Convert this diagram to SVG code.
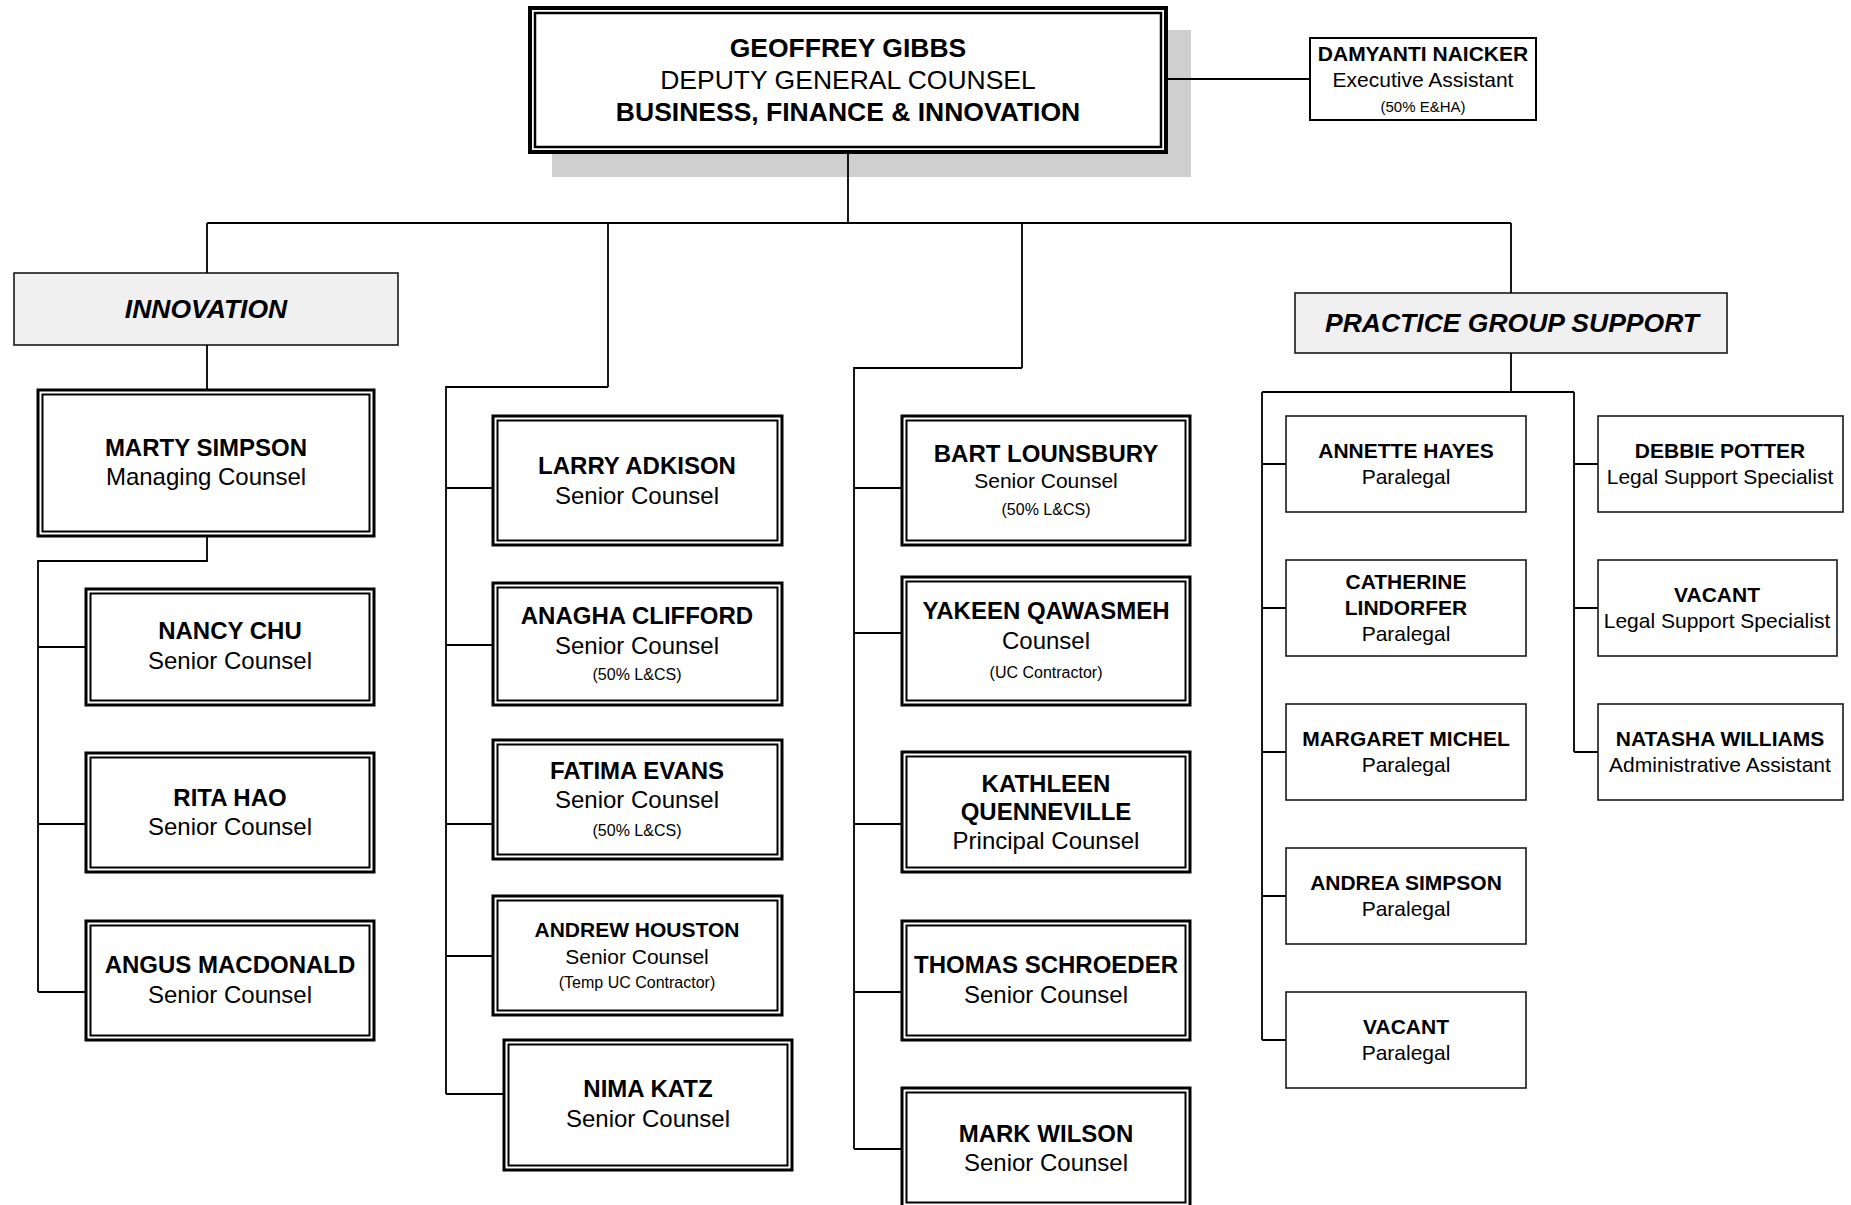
<svg xmlns="http://www.w3.org/2000/svg" width="1851" height="1205" viewBox="0 0 1851 1205">
<style>
text{font-family:"Liberation Sans",Arial,sans-serif;text-anchor:middle;fill:#000}
.n{font-weight:bold;font-size:24px}
.r{font-size:24px}
.n21{font-weight:bold;font-size:21px}
.r21{font-size:21px}
.sm{font-size:16px}
.hd{font-weight:bold;font-style:italic;font-size:26.5px}
.o{fill:#fff;stroke:#000;stroke-width:3}
.i{fill:none;stroke:#000;stroke-width:2}
.s{fill:#fff;stroke:#1a1a1a;stroke-width:1.6}
.h{fill:#f0f0f0;stroke:#1a1a1a;stroke-width:1.6}
.c path{fill:none;stroke:#000;stroke-width:1.8}
</style>
<rect width="1851" height="1205" fill="#fff"/>
<g id="gibbs">
<rect x="552" y="30" width="639" height="147" fill="#cfcfcf"/>
<rect x="530" y="8" width="636" height="144" fill="#fff" stroke="#000" stroke-width="4"/>
<rect x="535" y="13" width="626" height="134" fill="none" stroke="#000" stroke-width="2.5"/>
<text x="848" y="56.5" style="font-weight:bold;font-size:26.5px">GEOFFREY GIBBS</text>
<text x="848" y="88.5" style="font-size:26.5px">DEPUTY GENERAL COUNSEL</text>
<text x="848" y="120.5" style="font-weight:bold;font-size:26.5px">BUSINESS, FINANCE &amp; INNOVATION</text>
</g>
<g id="naicker">
<rect x="1310" y="38" width="226" height="82" fill="#fff" stroke="#000" stroke-width="2"/>
<text x="1423" y="60.5" class="n21">DAMYANTI NAICKER</text>
<text x="1423" y="86.5" class="r21">Executive Assistant</text>
<text x="1423" y="111.5" style="font-size:15px">(50% E&amp;HA)</text>
</g>
<g id="innovation">
<rect x="14" y="273" width="384" height="72" class="h"/>
<text x="206" y="317.5" class="hd">INNOVATION</text>
</g>
<g id="simpson">
<rect x="38" y="390" width="336" height="146" class="o"/>
<rect x="42.5" y="394.5" width="327" height="137" class="i"/>
<text x="206" y="456" class="n">MARTY SIMPSON</text>
<text x="206" y="485" class="r">Managing Counsel</text>
</g>
<g id="chu">
<rect x="86" y="589" width="288" height="116" class="o"/>
<rect x="90.5" y="593.5" width="279" height="107" class="i"/>
<text x="230" y="639" class="n">NANCY CHU</text>
<text x="230" y="669" class="r">Senior Counsel</text>
</g>
<g id="hao">
<rect x="86" y="753" width="288" height="119" class="o"/>
<rect x="90.5" y="757.5" width="279" height="110" class="i"/>
<text x="230" y="806" class="n">RITA HAO</text>
<text x="230" y="835" class="r">Senior Counsel</text>
</g>
<g id="macdonald">
<rect x="86" y="921" width="288" height="119" class="o"/>
<rect x="90.5" y="925.5" width="279" height="110" class="i"/>
<text x="230" y="973" class="n">ANGUS MACDONALD</text>
<text x="230" y="1003" class="r">Senior Counsel</text>
</g>
<g id="adkison">
<rect x="493" y="416" width="289" height="129" class="o"/>
<rect x="497.5" y="420.5" width="280" height="120" class="i"/>
<text x="637" y="474" class="n">LARRY ADKISON</text>
<text x="637" y="504" class="r">Senior Counsel</text>
</g>
<g id="clifford">
<rect x="493" y="583" width="289" height="122" class="o"/>
<rect x="497.5" y="587.5" width="280" height="113" class="i"/>
<text x="637" y="624" class="n">ANAGHA CLIFFORD</text>
<text x="637" y="654" class="r">Senior Counsel</text>
<text x="637" y="680" class="sm">(50% L&amp;CS)</text>
</g>
<g id="evans">
<rect x="493" y="740" width="289" height="119" class="o"/>
<rect x="497.5" y="744.5" width="280" height="110" class="i"/>
<text x="637" y="779" class="n">FATIMA EVANS</text>
<text x="637" y="808" class="r">Senior Counsel</text>
<text x="637" y="836" class="sm">(50% L&amp;CS)</text>
</g>
<g id="houston">
<rect x="493" y="896" width="289" height="119" class="o"/>
<rect x="497.5" y="900.5" width="280" height="110" class="i"/>
<text x="637" y="936.5" class="n21">ANDREW HOUSTON</text>
<text x="637" y="963.5" class="r21">Senior Counsel</text>
<text x="637" y="988" class="sm">(Temp UC Contractor)</text>
</g>
<g id="katz">
<rect x="504" y="1040" width="288" height="130" class="o"/>
<rect x="508.5" y="1044.5" width="279" height="121" class="i"/>
<text x="648" y="1097" class="n">NIMA KATZ</text>
<text x="648" y="1127" class="r">Senior Counsel</text>
</g>
<g id="lounsbury">
<rect x="902" y="416" width="288" height="129" class="o"/>
<rect x="906.5" y="420.5" width="279" height="120" class="i"/>
<text x="1046" y="462" class="n">BART LOUNSBURY</text>
<text x="1046" y="487.5" class="r21">Senior Counsel</text>
<text x="1046" y="515" class="sm">(50% L&amp;CS)</text>
</g>
<g id="qawasmeh">
<rect x="902" y="577" width="288" height="128" class="o"/>
<rect x="906.5" y="581.5" width="279" height="119" class="i"/>
<text x="1046" y="619" class="n">YAKEEN QAWASMEH</text>
<text x="1046" y="649" class="r">Counsel</text>
<text x="1046" y="678" class="sm">(UC Contractor)</text>
</g>
<g id="quenneville">
<rect x="902" y="752" width="288" height="120" class="o"/>
<rect x="906.5" y="756.5" width="279" height="111" class="i"/>
<text x="1046" y="792" class="n">KATHLEEN</text>
<text x="1046" y="820" class="n">QUENNEVILLE</text>
<text x="1046" y="849" class="r">Principal Counsel</text>
</g>
<g id="schroeder">
<rect x="902" y="921" width="288" height="119" class="o"/>
<rect x="906.5" y="925.5" width="279" height="110" class="i"/>
<text x="1046" y="973" class="n">THOMAS SCHROEDER</text>
<text x="1046" y="1003" class="r">Senior Counsel</text>
</g>
<g id="wilson">
<rect x="902" y="1088" width="288" height="119" class="o"/>
<rect x="906.5" y="1092.5" width="279" height="110" class="i"/>
<text x="1046" y="1142" class="n">MARK WILSON</text>
<text x="1046" y="1171" class="r">Senior Counsel</text>
</g>
<g id="pgs">
<rect x="1295" y="293" width="432" height="60" class="h"/>
<text x="1512" y="331.5" class="hd">PRACTICE GROUP SUPPORT</text>
</g>
<g id="hayes">
<rect x="1286" y="416" width="240" height="96" class="s"/>
<text x="1406" y="457.5" class="n21">ANNETTE HAYES</text>
<text x="1406" y="483.5" class="r21">Paralegal</text>
</g>
<g id="lindorfer">
<rect x="1286" y="560" width="240" height="96" class="s"/>
<text x="1406" y="588.5" class="n21">CATHERINE</text>
<text x="1406" y="614.5" class="n21">LINDORFER</text>
<text x="1406" y="640.5" class="r21">Paralegal</text>
</g>
<g id="michel">
<rect x="1286" y="704" width="240" height="96" class="s"/>
<text x="1406" y="745.5" class="n21">MARGARET MICHEL</text>
<text x="1406" y="771.5" class="r21">Paralegal</text>
</g>
<g id="asimpson">
<rect x="1286" y="848" width="240" height="96" class="s"/>
<text x="1406" y="889.5" class="n21">ANDREA SIMPSON</text>
<text x="1406" y="915.5" class="r21">Paralegal</text>
</g>
<g id="vacant-paralegal">
<rect x="1286" y="992" width="240" height="96" class="s"/>
<text x="1406" y="1033.5" class="n21">VACANT</text>
<text x="1406" y="1059.5" class="r21">Paralegal</text>
</g>
<g id="potter">
<rect x="1598" y="416" width="245" height="96" class="s"/>
<text x="1720" y="457.5" class="n21">DEBBIE POTTER</text>
<text x="1720" y="483.5" class="r21">Legal Support Specialist</text>
</g>
<g id="vacant-lss">
<rect x="1598" y="560" width="239" height="96" class="s"/>
<text x="1717" y="601.5" class="n21">VACANT</text>
<text x="1717" y="627.5" class="r21">Legal Support Specialist</text>
</g>
<g id="williams">
<rect x="1598" y="704" width="245" height="96" class="s"/>
<text x="1720" y="745.5" class="n21">NATASHA WILLIAMS</text>
<text x="1720" y="771.5" class="r21">Administrative Assistant</text>
</g>
<g class="c" id="connectors">
<path d="M848 154V223M207 223H1511M207 223V273M608 223V387M1022 223V368M1511 223V293"/>
<path d="M1168 79H1310"/>
<path d="M207 345V390M207 536V561H38V992M38 647H86M38 824H86M38 992H86"/>
<path d="M608 387H446V1094M446 488H493M446 645H493M446 824H493M446 956H493M446 1094H504"/>
<path d="M1022 368H854V1149M854 488H902M854 633H902M854 824H902M854 992H902M854 1149H902"/>
<path d="M1511 353V392M1262 392H1574M1262 392V1040M1574 392V752"/>
<path d="M1262 464H1286M1262 608H1286M1262 752H1286M1262 896H1286M1262 1040H1286M1574 464H1598M1574 608H1598M1574 752H1598"/>
</g>
</svg>
